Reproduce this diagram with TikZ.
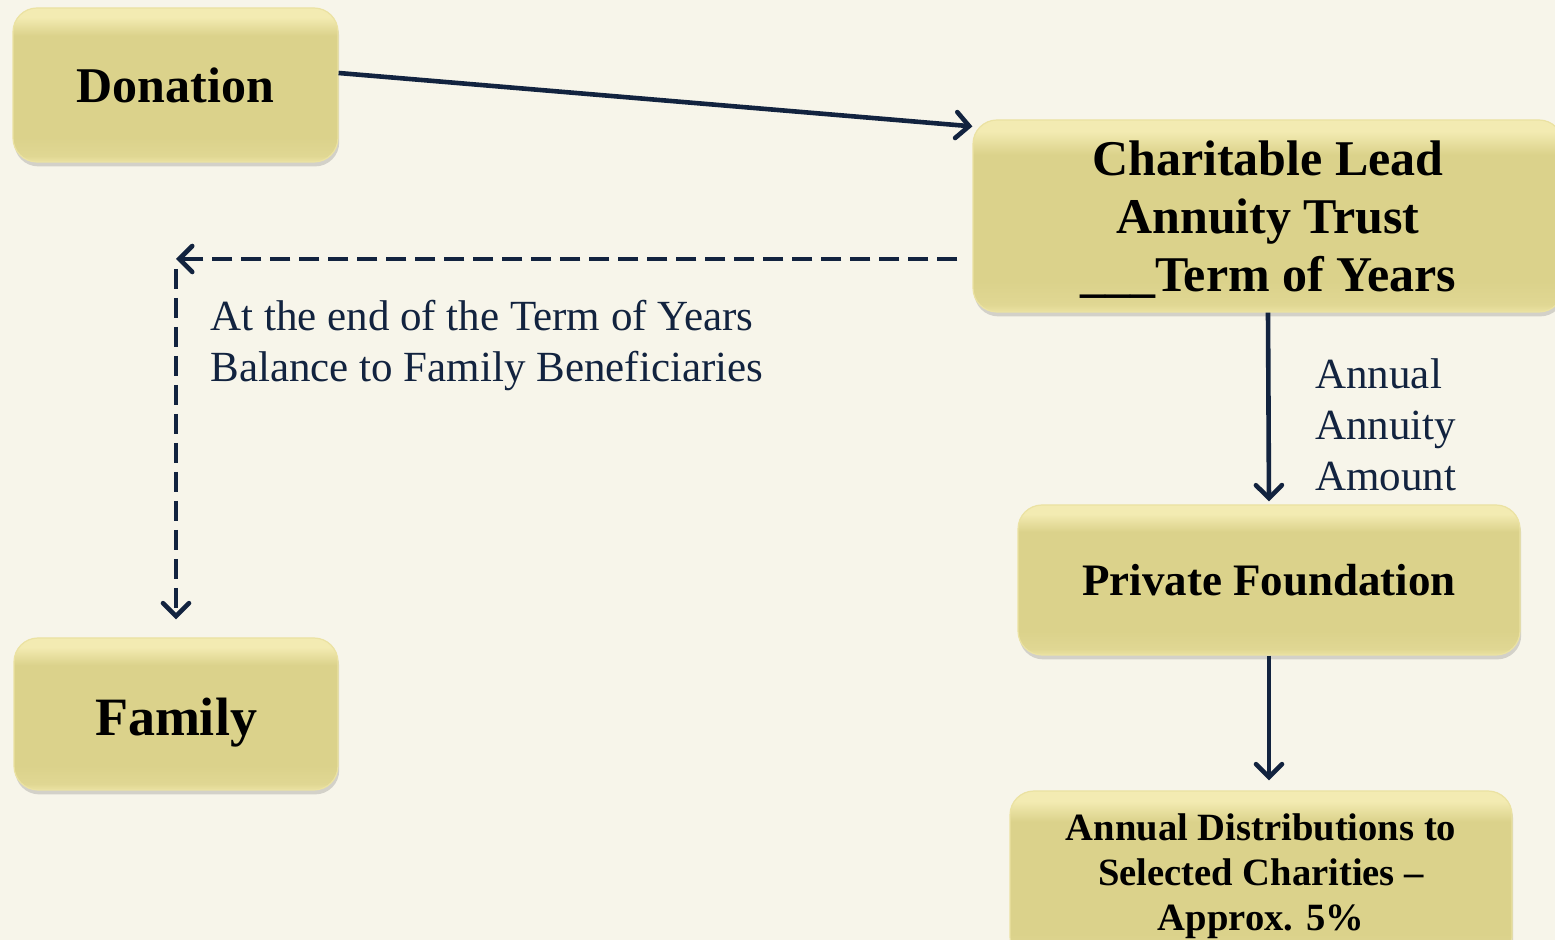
\documentclass[tikz,border=0pt]{standalone}
\usepackage{fontspec}
\setmainfont{Liberation Serif}
\usetikzlibrary{arrows.meta,positioning,shadows}

\definecolor{bgcream}{HTML}{F7F5EA}
\definecolor{navy}{HTML}{12233F}
\definecolor{boxtop}{HTML}{F3EBB2}
\definecolor{boxmid}{HTML}{DBD28B}
\definecolor{boxbot}{HTML}{E0D793}
\definecolor{boxedge}{HTML}{EBE2A2}

% light rim at top and bottom, flat body between
\pgfdeclareverticalshading{bevel}{100bp}{color(0bp)=(boxedge); color(25bp)=(boxedge); color(27bp)=(boxbot); color(33bp)=(boxmid); color(66bp)=(boxmid); color(72bp)=(boxtop); color(75bp)=(boxtop); color(100bp)=(boxtop)}

\tikzset{
  stepbox/.style={rounded corners=12pt, shading=bevel, draw=boxedge, line width=0.6pt,
    drop shadow={opacity=0.3, shadow xshift=0.6pt, shadow yshift=-2.2pt},
    align=center, inner sep=0pt, text=black},
  flow/.style={draw=navy, line width=2.3pt, -{Straight Barb[length=6.5pt,width=13pt,line cap=round]}},
  dashflow/.style={flow, dash pattern=on 10pt off 4.5pt},
  note/.style={text=navy, align=left, inner sep=0pt, font=\fontsize{21.5}{25.5}\selectfont}
}

\begin{document}
\begin{tikzpicture}[x=0.5pt,y=-0.5pt]
  \fill[bgcream] (0,0) rectangle (1555,940);
  \useasboundingbox (0,0) rectangle (1555,940);

  % boxes
  \node[stepbox, minimum width=162.5pt, minimum height=77pt,
    font=\bfseries\fontsize{25}{30}\selectfont] (don) at (175.5,85) {Donation};
  \node[stepbox, minimum width=295pt, minimum height=96pt, text depth=0pt,
    font=\bfseries\fontsize{25}{29}\selectfont] (clat) at (1268,216)
    {Charitable Lead\\Annuity Trust\\\_\_\_Term of Years};
  \node[stepbox, minimum width=251pt, minimum height=75pt,
    font=\bfseries\fontsize{22.5}{27}\selectfont] (pf) at (1269,580) {Private Foundation};
  \node[stepbox, minimum width=251pt, minimum height=85pt,
    font=\bfseries\fontsize{19.3}{22.5}\selectfont] (dist) at (1261,876)
    {Annual Distributions to\\Selected Charities --\\Approx. 5\%};
  \node[stepbox, minimum width=162pt, minimum height=76pt,
    font=\bfseries\fontsize{27}{32}\selectfont] (fam) at (176,714)
    {\raisebox{-1.3pt}[\height][0pt]{Family}};

  % labels
  \node[note, anchor=north west] (endlbl) at (210,300)
    {At the end of the Term of Years\\Balance to Family Beneficiaries};
  \node[note, anchor=north west] (annlbl) at (1315,358)
    {Annual\\Annuity\\Amount};

  % connectors
  \coordinate (corner) at (176,259);
  \draw[flow] ([yshift=6pt]don.east) -- ([yshift=-3.5pt]clat.north west);
  \draw[dashflow] ([xshift=-7.5pt,yshift=-21.5pt]clat.west) -- (corner);
  \draw[dashflow] ([yshift=-5pt]corner) -- ([yshift=9pt]fam.north);
  \draw[flow] (clat.south) -- ([yshift=1.5pt]pf.north);
  \draw[flow] (pf.south) -- ([yshift=5pt]pf.south |- dist.north);
\end{tikzpicture}
\end{document}
